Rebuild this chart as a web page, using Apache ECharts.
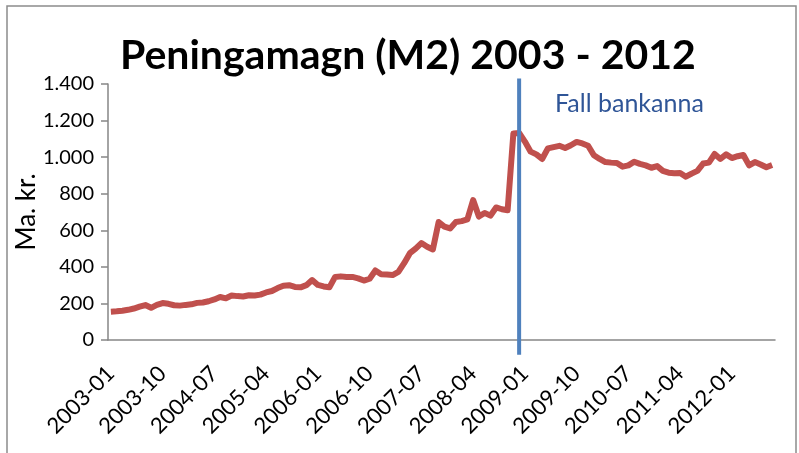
<!DOCTYPE html>
<html>
<head>
<meta charset="utf-8">
<script src="https://cdn.jsdelivr.net/npm/echarts@6/dist/echarts.min.js"></script>
<style>
html, body { margin: 0; padding: 0; background: #fff; }
#chart { width: 799px; height: 453px; }
</style>
</head>
<body>
<div id="chart"></div>
<script>
// peningamagn M2, monthly 2003-01 .. 2012-08 (ma. kr.)
var years = [2003, 2004, 2005, 2006, 2007, 2008, 2009, 2010, 2011, 2012];
var m2Values = [
    155, 157, 160, 165, 172, 182, 191, 176, 192, 202, 198, 190,   // 2003
    188, 192, 195, 203, 205, 212, 222, 235, 228, 243, 240, 238,   // 2004
    245, 243, 248, 260, 268, 284, 297, 300, 290, 288, 300, 328,   // 2005
    301, 293, 288, 345, 348, 345, 345, 337, 325, 335, 380, 360,   // 2006
    358, 355, 372, 420, 475, 500, 530, 510, 495, 645, 620, 610,   // 2007
    645, 650, 660, 765, 675, 695, 680, 725, 715, 710, 1130, 1132, // 2008
    1085, 1030, 1015, 990, 1048, 1055, 1062, 1050, 1065, 1083, 1075, 1062, // 2009
    1010, 990, 973, 970, 968, 948, 955, 975, 963, 955, 942, 951,  // 2010
    925, 915, 912, 913, 893, 910, 925, 965, 970, 1017, 990, 1015, // 2011
    995, 1005, 1012, 955, 973, 960, 945, 957                      // 2012
];
var yTicks = [0, 200, 400, 600, 800, 1000, 1200, 1400];
var crashPos = 71.5; // milli 2008-12 og 2009-01 (hrun bankanna)
var crashLabel = 'Fall bankanna';

var months = [];
years.forEach(function (y) {
    for (var m = 1; m <= 12; m++) {
        if (months.length < m2Values.length) {
            months.push(y + '-' + (m < 10 ? '0' + m : m));
        }
    }
});

var font = 'Lato, "Open Sans", sans-serif';

var chart = echarts.init(document.getElementById('chart'));
chart.setOption({
    backgroundColor: '#fff',
    animation: false,
    title: {
        text: 'Peningamagn (M2) 2003 - 2012',
        left: 115,
        top: 30,
        textStyle: { fontFamily: font, fontSize: 41, fontWeight: 'bold', color: '#000' }
    },
    grid: { left: 108, right: 24, top: 84, bottom: 113 },
    xAxis: [{
        type: 'category',
        data: months,
        boundaryGap: true,
        axisLine: { lineStyle: { color: '#868686', width: 1.5 } },
        axisTick: { interval: 8, length: 7, lineStyle: { color: '#868686', width: 1.5 } },
        axisLabel: {
            interval: 8, rotate: 45, margin: 30,
            fontFamily: font, fontSize: 22, color: '#000'
        },
        splitLine: { show: false }
    }, {
        // falinn gildisás fyrir lóðréttu línuna
        type: 'value',
        min: 0,
        max: m2Values.length,
        show: false
    }],
    yAxis: {
        type: 'value',
        min: yTicks[0],
        max: yTicks[yTicks.length - 1],
        interval: 200,
        name: 'Ma. kr.',
        nameLocation: 'middle',
        nameGap: 68,
        nameMoveOverlap: false,
        nameTextStyle: { fontFamily: font, fontSize: 26, color: '#000' },
        axisLine: { show: true, lineStyle: { color: '#868686', width: 1.5 } },
        axisTick: { show: true, length: 7, lineStyle: { color: '#868686', width: 1.5 } },
        axisLabel: {
            fontFamily: font, fontSize: 20, color: '#000', margin: 14,
            formatter: function (v) {
                return String(v).replace(/\B(?=(\d{3})+(?!\d))/g, '.');
            }
        },
        splitLine: { show: false }
    },
    series: [{
        name: 'M2',
        type: 'line',
        data: m2Values,
        symbol: 'none',
        lineStyle: { color: '#C0504D', width: 6, join: 'round' },
        z: 3
    }, {
        name: crashLabel,
        type: 'line',
        xAxisIndex: 1,
        data: [[crashPos, -80], [crashPos, 1430]],
        symbol: 'none',
        clip: false,
        lineStyle: { color: '#4F81BD', width: 4 },
        z: 4
    }],
    graphic: [{
        type: 'rect',
        shape: { x: 7, y: 6, width: 789, height: 470 },
        style: { fill: 'none', stroke: '#8c8c8c', lineWidth: 1.5 },
        silent: true
    }, {
        type: 'text',
        left: 555,
        top: 91,
        style: { text: crashLabel, fontFamily: font, fontSize: 25, fill: '#2F5597' }
    }]
});
</script>
</body>
</html>
